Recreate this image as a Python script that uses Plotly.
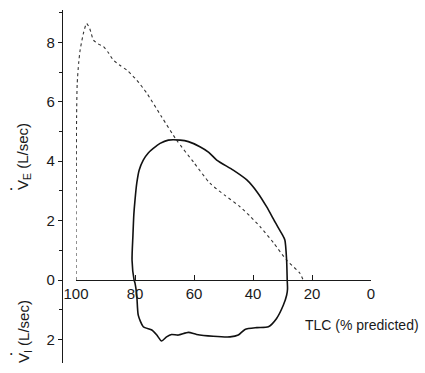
import plotly.graph_objects as go

# Expiratory flow-volume curve (dotted, predicted)
pred_tlc = [100, 100, 99.9, 99.8, 99.6, 99.1, 98.6, 97.5, 96.4, 95.3, 94.1, 92.5, 90.7, 89.0, 87.4,
            85.0, 82.8, 79.4, 76.0, 71.0, 65.9, 60.0, 54.6, 49.5, 44.4, 41.0, 37.6, 33.0, 28.6, 24.1, 23.0]
pred_flow = [0, 2.0, 4.0, 5.5, 6.6, 7.3, 7.74, 8.3, 8.64, 8.45, 8.08, 7.95, 7.86, 7.65, 7.41,
             7.22, 7.07, 6.73, 6.29, 5.5, 4.71, 3.95, 3.26, 2.85, 2.47, 2.15, 1.8, 1.25, 0.67, 0.23, 0]

# Measured flow-volume loop (solid); inspiratory flow plotted downward
loop_tlc = [80.3, 81.0, 80.7, 80.4, 80.0, 79.4, 78.6, 77.2, 75.5, 73.8, 71.5, 68.7, 64.7, 61.9, 58.0,
            55.0, 52.3, 46.7, 42.1, 38.5, 35.4, 32.5, 30.3, 29.2, 28.6, 28.4, 28.3, 28.6, 29.7, 32.0,
            34.8, 38.7, 42.7, 45.0, 47.8, 53.5, 59.1, 61.9, 65.3, 67.6, 69.3, 71.0, 72.6, 74.3, 77.2,
            78.9, 79.4, 80.0, 80.3]
loop_flow = [0, 0.67, 1.5, 2.2, 2.69, 3.26, 3.7, 4.04, 4.28, 4.43, 4.6, 4.71, 4.71, 4.66, 4.49,
             4.3, 4.04, 3.70, 3.37, 2.95, 2.47, 1.95, 1.57, 1.35, 0.67, 0, -0.3, -0.51, -0.84, -1.29,
             -1.57, -1.60, -1.66, -1.85, -1.91, -1.89, -1.83, -1.76, -1.85, -1.83, -1.91, -2.05, -1.85, -1.68, -1.57,
             -1.18, -0.51, -0.1, 0]

x_ticks = [100, 80, 60, 40, 20, 0]
y_ticks = [8, 6, 4, 2, 0, -2]
y_ticktext = ["8", "6", "4", "2", "0", "2"]
y_minor = [9, 7, 5, 3, 1, -1]

W, H = 425, 373
FONT = "Liberation Sans, Arial, sans-serif"

fig = go.Figure()
fig.add_trace(go.Scatter(x=pred_tlc, y=pred_flow, mode="lines",
                         line=dict(color="#333", width=1.1, dash="dot", shape="spline", smoothing=0.6),
                         hoverinfo="skip"))
fig.add_trace(go.Scatter(x=loop_tlc, y=loop_flow, mode="lines",
                         line=dict(color="#111", width=1.6, shape="spline", smoothing=0.6),
                         hoverinfo="skip"))

y_lo, y_hi = -2.79, 9.09
y_px_top, y_px_bot = 10, 363
x_px_100, x_px_0 = 76, 371
zero_px = 280

fig.update_layout(
    width=W, height=H,
    margin=dict(l=0, r=0, t=0, b=0),
    plot_bgcolor="white", paper_bgcolor="white",
    showlegend=False,
    font=dict(family=FONT, size=15, color="#1a1a1a"),
    xaxis=dict(
        range=[100, 0], domain=[x_px_100 / W, x_px_0 / W],
        anchor="free", position=(H - zero_px) / H,
        showline=True, linecolor="#1a1a1a", linewidth=1.2,
        tickvals=x_ticks, ticks="inside", ticklen=5, tickcolor="#1a1a1a",
        showgrid=False, zeroline=False, automargin=False,
    ),
    yaxis=dict(
        range=[y_lo, y_hi], domain=[(H - y_px_bot) / H, (H - y_px_top) / H],
        anchor="free", position=62 / W,
        showline=True, linecolor="#1a1a1a", linewidth=1.2,
        tickvals=y_ticks, ticktext=y_ticktext, ticks="outside", ticklen=4, tickcolor="#1a1a1a",
        minor=dict(tickvals=y_minor, ticks="outside", ticklen=3, tickcolor="#1a1a1a"),
        showgrid=False, zeroline=False, automargin=False,
    ),
)

fig.add_annotation(text="TLC (% predicted)", xref="paper", yref="paper",
                   x=421 / W, y=(H - 325) / H, xanchor="right", yanchor="middle",
                   showarrow=False, font=dict(size=14))
fig.add_annotation(text="V<sub>E</sub> (L/sec)", xref="paper", yref="paper",
                   x=24 / W, y=(H - 157) / H, xanchor="center", yanchor="middle",
                   textangle=-90, showarrow=False, font=dict(size=15))
fig.add_annotation(text="V<sub>I</sub> (L/sec)", xref="paper", yref="paper",
                   x=24 / W, y=(H - 332) / H, xanchor="center", yanchor="middle",
                   textangle=-90, showarrow=False, font=dict(size=15))
# dots above V (flow rate notation)
for ydot in (188, 353):
    fig.add_annotation(text="\u2022", xref="paper", yref="paper",
                       x=11 / W, y=(H - ydot) / H, xanchor="center", yanchor="middle",
                       showarrow=False, font=dict(size=7))

fig.write_html("out.html")
